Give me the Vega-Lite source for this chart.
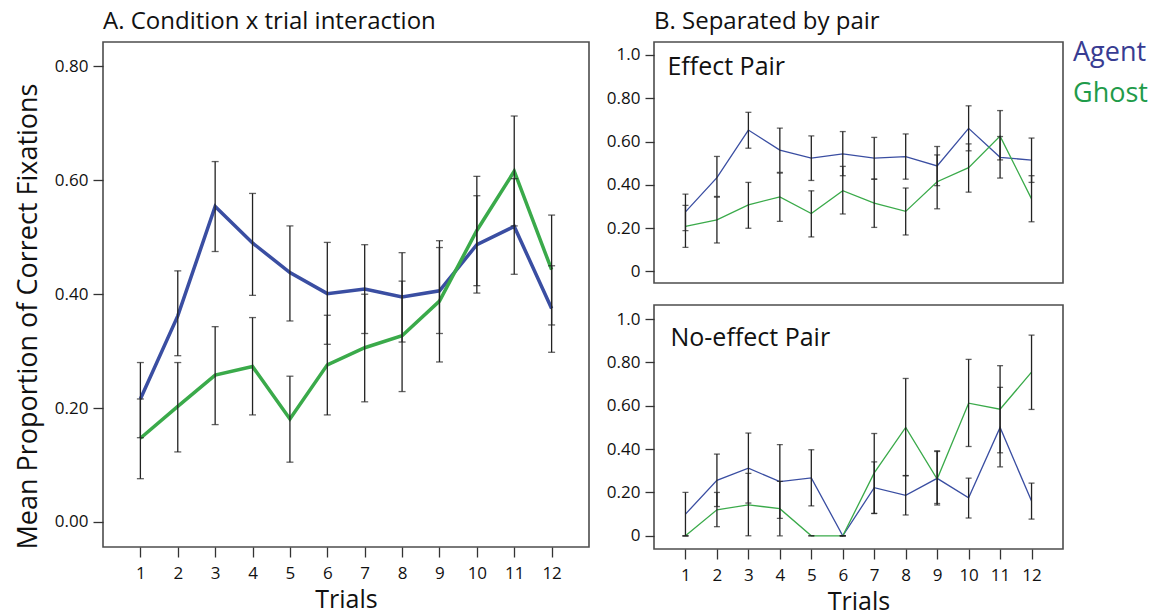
{
  "$schema": "https://vega.github.io/schema/vega-lite/v6.json",
  "background": "white",
  "padding": {"left": 13, "top": 9, "right": 0, "bottom": 0},
  "config": {
    "font": "Open Sans",
    "view": {"stroke": "#4d4d4d", "strokeWidth": 1.6},
    "axis": {"domain": false, "grid": false, "tickColor": "#333", "tickWidth": 1.3, "labelColor": "#111", "titleColor": "#111", "titleFontWeight": "normal", "labelFontSize": 17, "titleFontSize": 25},
    "title": {"fontWeight": "normal", "anchor": "start", "frame": "group", "fontSize": 24, "color": "#111", "offset": 8}
  },
  "datasets": {
    "a": [
      {"trial": 1, "cond": "Agent", "mean": 0.216, "lo": 0.148, "hi": 0.28},
      {"trial": 2, "cond": "Agent", "mean": 0.362, "lo": 0.292, "hi": 0.441},
      {"trial": 3, "cond": "Agent", "mean": 0.554, "lo": 0.475, "hi": 0.633},
      {"trial": 4, "cond": "Agent", "mean": 0.49, "lo": 0.398, "hi": 0.577},
      {"trial": 5, "cond": "Agent", "mean": 0.438, "lo": 0.353, "hi": 0.52},
      {"trial": 6, "cond": "Agent", "mean": 0.401, "lo": 0.312, "hi": 0.491},
      {"trial": 7, "cond": "Agent", "mean": 0.409, "lo": 0.331, "hi": 0.487},
      {"trial": 8, "cond": "Agent", "mean": 0.395, "lo": 0.316, "hi": 0.473},
      {"trial": 9, "cond": "Agent", "mean": 0.406, "lo": 0.331, "hi": 0.482},
      {"trial": 10, "cond": "Agent", "mean": 0.487, "lo": 0.402, "hi": 0.573},
      {"trial": 11, "cond": "Agent", "mean": 0.519, "lo": 0.435, "hi": 0.603},
      {"trial": 12, "cond": "Agent", "mean": 0.375, "lo": 0.298, "hi": 0.45},
      {"trial": 1, "cond": "Ghost", "mean": 0.147, "lo": 0.076, "hi": 0.216},
      {"trial": 2, "cond": "Ghost", "mean": 0.203, "lo": 0.123, "hi": 0.28},
      {"trial": 3, "cond": "Ghost", "mean": 0.258, "lo": 0.171, "hi": 0.343},
      {"trial": 4, "cond": "Ghost", "mean": 0.273, "lo": 0.188, "hi": 0.359},
      {"trial": 5, "cond": "Ghost", "mean": 0.181, "lo": 0.105, "hi": 0.256},
      {"trial": 6, "cond": "Ghost", "mean": 0.276, "lo": 0.188, "hi": 0.363},
      {"trial": 7, "cond": "Ghost", "mean": 0.306, "lo": 0.211, "hi": 0.4},
      {"trial": 8, "cond": "Ghost", "mean": 0.327, "lo": 0.229, "hi": 0.423},
      {"trial": 9, "cond": "Ghost", "mean": 0.388, "lo": 0.281, "hi": 0.494},
      {"trial": 10, "cond": "Ghost", "mean": 0.512, "lo": 0.415, "hi": 0.607},
      {"trial": 11, "cond": "Ghost", "mean": 0.616, "lo": 0.52, "hi": 0.713},
      {"trial": 12, "cond": "Ghost", "mean": 0.443, "lo": 0.346, "hi": 0.539}
    ],
    "effect": [
      {"trial": 1, "cond": "Agent", "mean": 0.275, "lo": 0.188, "hi": 0.357},
      {"trial": 2, "cond": "Agent", "mean": 0.433, "lo": 0.346, "hi": 0.531},
      {"trial": 3, "cond": "Agent", "mean": 0.653, "lo": 0.569, "hi": 0.735},
      {"trial": 4, "cond": "Agent", "mean": 0.56, "lo": 0.457, "hi": 0.662},
      {"trial": 5, "cond": "Agent", "mean": 0.523, "lo": 0.42, "hi": 0.626},
      {"trial": 6, "cond": "Agent", "mean": 0.543, "lo": 0.442, "hi": 0.646},
      {"trial": 7, "cond": "Agent", "mean": 0.523, "lo": 0.426, "hi": 0.619},
      {"trial": 8, "cond": "Agent", "mean": 0.53, "lo": 0.426, "hi": 0.635},
      {"trial": 9, "cond": "Agent", "mean": 0.487, "lo": 0.396, "hi": 0.577},
      {"trial": 10, "cond": "Agent", "mean": 0.661, "lo": 0.557, "hi": 0.765},
      {"trial": 11, "cond": "Agent", "mean": 0.527, "lo": 0.431, "hi": 0.623},
      {"trial": 12, "cond": "Agent", "mean": 0.514, "lo": 0.411, "hi": 0.616},
      {"trial": 1, "cond": "Ghost", "mean": 0.208, "lo": 0.111, "hi": 0.305},
      {"trial": 2, "cond": "Ghost", "mean": 0.238, "lo": 0.131, "hi": 0.343},
      {"trial": 3, "cond": "Ghost", "mean": 0.307, "lo": 0.199, "hi": 0.411},
      {"trial": 4, "cond": "Ghost", "mean": 0.344, "lo": 0.231, "hi": 0.454},
      {"trial": 5, "cond": "Ghost", "mean": 0.267, "lo": 0.159, "hi": 0.372},
      {"trial": 6, "cond": "Ghost", "mean": 0.373, "lo": 0.265, "hi": 0.485},
      {"trial": 7, "cond": "Ghost", "mean": 0.315, "lo": 0.203, "hi": 0.426},
      {"trial": 8, "cond": "Ghost", "mean": 0.277, "lo": 0.168, "hi": 0.385},
      {"trial": 9, "cond": "Ghost", "mean": 0.414, "lo": 0.289, "hi": 0.538},
      {"trial": 10, "cond": "Ghost", "mean": 0.479, "lo": 0.366, "hi": 0.589},
      {"trial": 11, "cond": "Ghost", "mean": 0.625, "lo": 0.515, "hi": 0.743},
      {"trial": 12, "cond": "Ghost", "mean": 0.335, "lo": 0.229, "hi": 0.442}
    ],
    "noeffect": [
      {"trial": 1, "cond": "Agent", "mean": 0.1, "lo": 0.0, "hi": 0.2},
      {"trial": 2, "cond": "Agent", "mean": 0.256, "lo": 0.135, "hi": 0.377},
      {"trial": 3, "cond": "Agent", "mean": 0.312, "lo": 0.151, "hi": 0.474},
      {"trial": 4, "cond": "Agent", "mean": 0.25, "lo": 0.08, "hi": 0.421},
      {"trial": 5, "cond": "Agent", "mean": 0.267, "lo": 0.138, "hi": 0.397},
      {"trial": 6, "cond": "Agent", "mean": 0.0, "lo": 0.0, "hi": 0.0},
      {"trial": 7, "cond": "Agent", "mean": 0.222, "lo": 0.103, "hi": 0.341},
      {"trial": 8, "cond": "Agent", "mean": 0.187, "lo": 0.096, "hi": 0.278},
      {"trial": 9, "cond": "Agent", "mean": 0.265, "lo": 0.142, "hi": 0.389},
      {"trial": 10, "cond": "Agent", "mean": 0.175, "lo": 0.082, "hi": 0.266},
      {"trial": 11, "cond": "Agent", "mean": 0.5, "lo": 0.318, "hi": 0.685},
      {"trial": 12, "cond": "Agent", "mean": 0.16, "lo": 0.077, "hi": 0.243},
      {"trial": 1, "cond": "Ghost", "mean": 0.0, "lo": 0.0, "hi": 0.0},
      {"trial": 2, "cond": "Ghost", "mean": 0.12, "lo": 0.042, "hi": 0.2},
      {"trial": 3, "cond": "Ghost", "mean": 0.143, "lo": 0.0, "hi": 0.288},
      {"trial": 4, "cond": "Ghost", "mean": 0.125, "lo": 0.0, "hi": 0.251},
      {"trial": 5, "cond": "Ghost", "mean": 0.0, "lo": 0.0, "hi": 0.0},
      {"trial": 6, "cond": "Ghost", "mean": 0.0, "lo": 0.0, "hi": 0.0},
      {"trial": 7, "cond": "Ghost", "mean": 0.29, "lo": 0.103, "hi": 0.472},
      {"trial": 8, "cond": "Ghost", "mean": 0.5, "lo": 0.277, "hi": 0.726},
      {"trial": 9, "cond": "Ghost", "mean": 0.262, "lo": 0.149, "hi": 0.392},
      {"trial": 10, "cond": "Ghost", "mean": 0.612, "lo": 0.412, "hi": 0.814},
      {"trial": 11, "cond": "Ghost", "mean": 0.584, "lo": 0.383, "hi": 0.785},
      {"trial": 12, "cond": "Ghost", "mean": 0.755, "lo": 0.583, "hi": 0.926}
    ]
  },
  "spacing": 15,
  "hconcat": [
    {
      "width": 486,
      "height": 505,
      "data": {"name": "a"},
      "title": {"text": "A. Condition x trial interaction"},
      "encoding": {
        "x": {"field": "trial", "type": "ordinal", "scale": {"type": "point", "padding": 1.15},
              "axis": {"title": "Trials", "labelAngle": 0, "tickSize": 10, "labelPadding": 8, "titlePadding": 6}}
      },
      "layer": [
        {
          "mark": {"type": "line", "strokeWidth": 3.5},
          "encoding": {
            "y": {"field": "mean", "type": "quantitative", "scale": {"domain": [-0.044, 0.843], "nice": false, "zero": false},
                  "axis": {"title": "Mean Proportion of Correct Fixations", "titleFontSize": 27, "titleY": 274, "values": [0, 0.2, 0.4, 0.6, 0.8], "format": ".2f", "tickSize": 10, "labelPadding": 5, "titlePadding": 12}},
            "color": {"field": "cond", "type": "nominal", "scale": {"domain": ["Agent", "Ghost"], "range": ["#3a4ea2", "#3aaa4a"]},
                      "legend": {"orient": "none", "legendX": 943, "legendY": -3, "title": null, "symbolSize": 0, "symbolOpacity": 0, "symbolStrokeWidth": 0, "labelFontSize": 27, "labelOffset": 0, "rowPadding": 13,
                                 "labelFont": "Open Sans",
                                 "encode": {"labels": {"update": {"fill": {"signal": "datum.label == 'Agent' ? '#383c92' : '#1f9b4a'"}}}}}}
          }
        },
        {
          "mark": {"type": "rule", "color": "#222", "strokeWidth": 1.3},
          "encoding": {"y": {"field": "lo", "type": "quantitative"}, "y2": {"field": "hi"}}
        },
        {
          "mark": {"type": "tick", "color": "#222", "thickness": 1.3, "size": 7},
          "encoding": {"y": {"field": "lo", "type": "quantitative"}}
        },
        {
          "mark": {"type": "tick", "color": "#222", "thickness": 1.3, "size": 7},
          "encoding": {"y": {"field": "hi", "type": "quantitative"}}
        }
      ]
    },
    {
      "spacing": 20,
      "vconcat": [
        {
          "width": 409,
          "height": 241,
          "data": {"name": "effect"},
          "title": {"text": "B. Separated by pair"},
          "encoding": {
            "x": {"field": "trial", "type": "ordinal", "scale": {"type": "point", "padding": 1.15}, "axis": null}
          },
          "layer": [
            {
              "mark": {"type": "line", "strokeWidth": 1.3},
              "encoding": {
                "y": {"field": "mean", "type": "quantitative", "scale": {"domain": [-0.054, 1.06], "nice": false, "zero": false},
                      "axis": {"title": null, "values": [0, 0.2, 0.4, 0.6, 0.8, 1], "labelExpr": "datum.value == 1 ? '1.0' : datum.value == 0 ? '0' : format(datum.value, '.2f')", "tickSize": 9, "labelPadding": 5}},
                "color": {"field": "cond", "type": "nominal"}
              }
            },
            {
              "mark": {"type": "rule", "color": "#222", "strokeWidth": 1.3},
              "encoding": {"y": {"field": "lo", "type": "quantitative"}, "y2": {"field": "hi"}}
            },
            {
              "mark": {"type": "tick", "color": "#222", "thickness": 1.3, "size": 6},
              "encoding": {"y": {"field": "lo", "type": "quantitative"}}
            },
            {
              "mark": {"type": "tick", "color": "#222", "thickness": 1.3, "size": 6},
              "encoding": {"y": {"field": "hi", "type": "quantitative"}}
            },
            {
              "data": {"values": [{"label": "Effect Pair"}]},
              "mark": {"type": "text", "align": "left", "baseline": "alphabetic", "fontSize": 25, "dx": -18, "color": "#111"},
              "encoding": {"x": {"datum": 1, "type": "ordinal"}, "y": {"datum": 0.908, "type": "quantitative"}, "text": {"field": "label"}}
            }
          ]
        },
        {
          "width": 409,
          "height": 244,
          "data": {"name": "noeffect"},
          "encoding": {
            "x": {"field": "trial", "type": "ordinal", "scale": {"type": "point", "padding": 1.15},
                  "axis": {"title": "Trials", "labelAngle": 0, "tickSize": 10, "labelPadding": 8, "titlePadding": 6}}
          },
          "layer": [
            {
              "mark": {"type": "line", "strokeWidth": 1.3},
              "encoding": {
                "y": {"field": "mean", "type": "quantitative", "scale": {"domain": [-0.061, 1.065], "nice": false, "zero": false},
                      "axis": {"title": null, "values": [0, 0.2, 0.4, 0.6, 0.8, 1], "labelExpr": "datum.value == 1 ? '1.0' : datum.value == 0 ? '0' : format(datum.value, '.2f')", "tickSize": 9, "labelPadding": 5}},
                "color": {"field": "cond", "type": "nominal"}
              }
            },
            {
              "mark": {"type": "rule", "color": "#222", "strokeWidth": 1.3},
              "encoding": {"y": {"field": "lo", "type": "quantitative"}, "y2": {"field": "hi"}}
            },
            {
              "mark": {"type": "tick", "color": "#222", "thickness": 1.3, "size": 6},
              "encoding": {"y": {"field": "lo", "type": "quantitative"}}
            },
            {
              "mark": {"type": "tick", "color": "#222", "thickness": 1.3, "size": 6},
              "encoding": {"y": {"field": "hi", "type": "quantitative"}}
            },
            {
              "data": {"values": [{"label": "No-effect Pair"}]},
              "mark": {"type": "text", "align": "left", "baseline": "alphabetic", "fontSize": 25, "dx": -15, "color": "#111"},
              "encoding": {"x": {"datum": 1, "type": "ordinal"}, "y": {"datum": 0.874, "type": "quantitative"}, "text": {"field": "label"}}
            }
          ]
        }
      ]
    }
  ]
}
